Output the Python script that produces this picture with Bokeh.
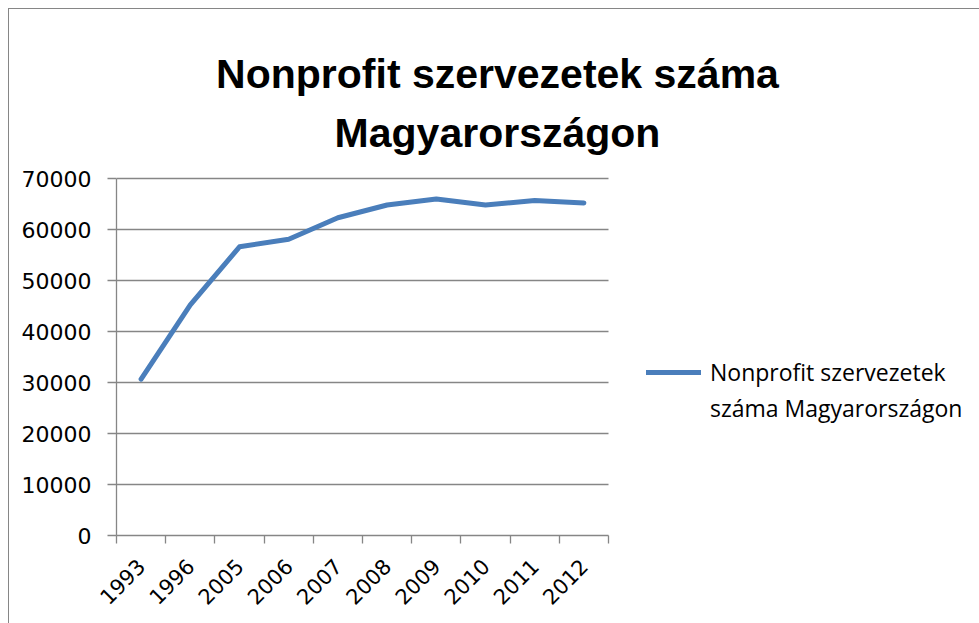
from bokeh.plotting import figure
from bokeh.models import (ColumnDataSource, FixedTicker, Legend, LegendItem, Label,
                          Range1d, NumeralTickFormatter)
from bokeh.embed import file_html
from bokeh.resources import INLINE
from math import pi

# ---- data ----
years = ["1993", "1996", "2005", "2006", "2007", "2008", "2009", "2010", "2011", "2012"]
counts = [30650, 45200, 56600, 58100, 62300, 64800, 66000, 64800, 65700, 65200]
y_ticks = [0, 10000, 20000, 30000, 40000, 50000, 60000, 70000]
title_lines = ["Nonprofit szervezetek száma", "Magyarországon"]
series_lines = ["Nonprofit szervezetek", "száma Magyarországon"]

GRAY = "#868686"
BLUE = "#4A7EBB"

# ---- layout (pixels) ----
W, H = 979, 623
LEFT, BOTTOM = 116, 88          # space for the axes
PLOT_W, PLOT_H = 492, 357       # size of the gridded plot area
FRAME_W, FRAME_H = W - LEFT, H - BOTTOM

n = len(years)
centers = [i + 0.5 for i in range(n)]
bounds = list(range(n + 1))
y_top = y_ticks[-1]
src = ColumnDataSource(dict(x=centers, y=counts, year=years))

# the frame covers the whole chart area; axes and grid are bounded to the plot area
p = figure(width=W, height=H, output_backend="svg", toolbar_location=None,
           x_range=Range1d(0, n * FRAME_W / PLOT_W),
           y_range=Range1d(0, y_top * FRAME_H / PLOT_H),
           min_border_left=LEFT, min_border_bottom=BOTTOM,
           min_border_top=0, min_border_right=0)
p.outline_line_color = None
p.background_fill_alpha = 0
p.border_fill_alpha = 0
p.styles = {
    "background": ("linear-gradient(#868686, #868686) 8px 8px / 100% 1px no-repeat, "
                   "linear-gradient(#868686, #868686) 8px 8px / 1px 100% no-repeat, white"),
}

# grid: horizontal lines only across the category span
p.xgrid.visible = False
ygrid = p.ygrid[0]
if "cross_bounds" in ygrid.properties():
    ygrid.ticker = FixedTicker(ticks=y_ticks)
    ygrid.cross_bounds = (0, n)
    ygrid.grid_line_color = GRAY
    ygrid.grid_line_width = 1.3
else:
    ygrid.visible = False
    p.segment(x0=[0] * len(y_ticks), x1=[n] * len(y_ticks), y0=y_ticks, y1=y_ticks,
              line_color=GRAY, line_width=1.3)

# y axis
p.yaxis.ticker = FixedTicker(ticks=y_ticks)
p.yaxis.bounds = (0, y_top)
p.yaxis.formatter = NumeralTickFormatter(format="0")
p.yaxis.axis_line_color = GRAY
p.yaxis.axis_line_width = 1.3
p.yaxis.major_tick_line_color = GRAY
p.yaxis.major_tick_line_width = 1.3
p.yaxis.major_tick_out = 9
p.yaxis.major_tick_in = 0
p.yaxis.minor_tick_line_color = None
p.yaxis.major_label_standoff = 16
p.yaxis.major_label_text_font = "DejaVu Sans"
p.yaxis.major_label_text_font_size = "22px"
p.yaxis.major_label_text_color = "black"

# x axis
p.xaxis.ticker = FixedTicker(ticks=centers, minor_ticks=bounds)
p.xaxis.bounds = (0, n)
p.xaxis.major_label_overrides = {c: y for c, y in zip(centers, years)}
p.xaxis.axis_line_color = GRAY
p.xaxis.axis_line_width = 1.3
p.xaxis.major_tick_line_color = None
p.xaxis.major_tick_out = 0
p.xaxis.major_tick_in = 0
p.xaxis.minor_tick_line_color = GRAY
p.xaxis.minor_tick_line_width = 1.3
p.xaxis.minor_tick_out = 8
p.xaxis.minor_tick_in = 0
p.xaxis.major_label_orientation = pi / 4
p.xaxis.major_label_standoff = 19
p.xaxis.major_label_text_font = "DejaVu Sans"
p.xaxis.major_label_text_font_size = "21px"
p.xaxis.major_label_text_color = "black"

# line
r = p.line("x", "y", source=src, line_color=BLUE, line_width=5,
           line_cap="round", line_join="round")
r_blank = p.line(x=[], y=[], line_alpha=0)

# legend
legend = Legend(items=[LegendItem(label=series_lines[0], renderers=[r]),
                       LegendItem(label=series_lines[1], renderers=[r_blank])],
                location=(530, 111), padding=0, margin=0, spacing=4,
                glyph_width=55, glyph_height=20, label_standoff=9,
                border_line_color=None, background_fill_alpha=0,
                label_text_font="Open Sans", label_text_font_size="23px",
                label_text_color="black")
p.add_layout(legend, "center")

# title, centred on the whole chart
for txt, base in zip(title_lines, [73, 132]):
    p.add_layout(Label(x=497 - LEFT, y=FRAME_H - base, x_units="screen", y_units="screen",
                       text=txt, text_font="Liberation Sans", text_font_style="bold",
                       text_font_size="41px", text_color="black",
                       text_align="center", text_baseline="alphabetic"))

open("out.html", "w").write(file_html(p, INLINE))
